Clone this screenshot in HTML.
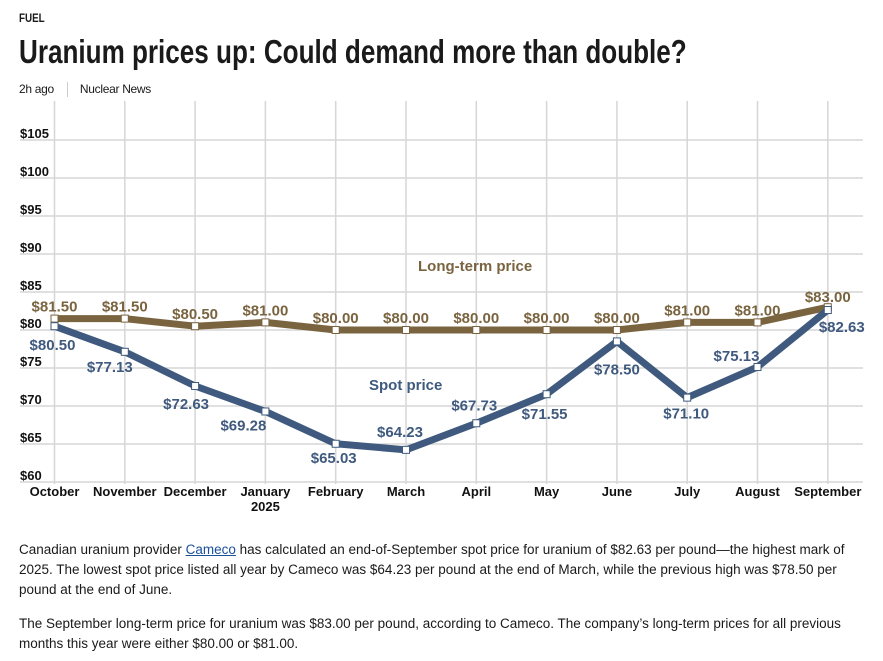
<!DOCTYPE html>
<html><head><meta charset="utf-8">
<style>
body{margin:0;width:883px;height:661px;background:#fff;font-family:"Liberation Sans",sans-serif;color:#1a1a1a;position:relative;overflow:hidden}
.a{position:absolute}
#fuel{left:19px;top:11px;font-size:12px;font-weight:bold;transform:scaleX(0.82);transform-origin:left top}
#title{left:19px;top:33px;font-size:33px;font-weight:bold;white-space:nowrap;transform:scaleX(0.79);transform-origin:left top}
#meta{left:19px;top:82px;font-size:12px;white-space:nowrap;letter-spacing:-0.3px}
#meta span.sep{display:inline-block;width:1px;height:15px;background:#ccc;vertical-align:middle;margin:0 12px 0 13px}
p{position:absolute;left:19px;margin:0;font-size:13.5px;line-height:20px;width:850px}
a{color:#1a4f9c}
</style></head><body>
<div class="a" id="fuel">FUEL</div>
<div class="a" id="title">Uranium prices up: Could demand more than double?</div>
<div class="a" id="meta">2h ago<span class="sep"></span>Nuclear News</div>
<svg class="a" style="left:0;top:0" width="883" height="530">
<g id="grid"></g><g id="ax"></g><g id="lines"></g><g id="lbl"></g>
<text x="418" y="271" font-size="15" font-weight="bold" fill="#7a6440">Long-term price</text>
<text x="369" y="390" font-size="15" font-weight="bold" fill="#3f5a7e">Spot price</text>
</svg>
<p style="top:540px">Canadian uranium provider <a href="#">Cameco</a> has calculated an end-of-September spot price for uranium of $82.63 per pound—the highest mark of 2025. The lowest spot price listed all year by Cameco was $64.23 per pound at the end of March, while the previous high was $78.50 per pound at the end of June.</p>
<p style="top:614px">The September long-term price for uranium was $83.00 per pound, according to Cameco. The company’s long-term prices for all previous months this year were either $80.00 or $81.00.</p>
<script>
const months=["October","November","December","January","February","March","April","May","June","July","August","September"];
const longTerm=[81.5,81.5,80.5,81.0,80.0,80.0,80.0,80.0,80.0,81.0,81.0,83.0];
const spot=[80.5,77.13,72.63,69.28,65.03,64.23,67.73,71.55,78.5,71.1,75.13,82.63];
const yTicks=[60,65,70,75,80,85,90,95,100,105];
const NS="http://www.w3.org/2000/svg";
const X=i=>54.5+i*70.3;
const Y=v=>482-(v-60)*7.6;
function mk(p,t,at){const e=document.createElementNS(NS,t);for(const k in at)e.setAttribute(k,at[k]);document.getElementById(p).appendChild(e);return e;}
yTicks.forEach(v=>{
 const l=mk('grid','line',{x1:20,x2:863,y1:Y(v),y2:Y(v),stroke:'#d6d6d6','stroke-width':1.5});
 
 
 const t=mk('ax','text',{x:20,y:Y(v)-2,'font-size':13,'font-weight':'bold',fill:'#111'});
 t.textContent='$'+v;
 
 
});
months.forEach((m,i)=>{
 const l=mk('grid','line',{x1:X(i),x2:X(i),y1:101,y2:484,stroke:'#d6d6d6','stroke-width':1.5});
 
 
 const t=mk('ax','text',{x:X(i),y:496,'font-size':13,'font-weight':'bold','text-anchor':'middle',fill:'#111'});
 t.textContent=m;
 
 
});
const yr=mk('ax','text',{x:X(3),y:511,'font-size':13,'font-weight':'bold','text-anchor':'middle',fill:'#111'});
yr.textContent='2025';


const ltOff=[[0,-7],[0,-7],[0,-7],[0,-7],[0,-7],[0,-7],[0,-7],[0,-7],[0,-7],[0,-7],[0,-7],[0,-5]];
const spOff=[[-2,24],[-15,20],[-9,23],[-22,19],[-2,19],[-6,-13],[-2,-13],[-2,25],[0,33],[-1,21],[-21,-6],[14,22]];
function series(vals,col,name,off){
 const pl=mk('lines','polyline',{points:vals.map((v,i)=>X(i)+','+Y(v)).join(' '),fill:'none',stroke:col,'stroke-width':7,'stroke-linejoin':'round'});
 
 
 vals.forEach((v,i)=>{
  const r=mk('lines','rect',{x:X(i)-3.5,y:Y(v)-3.5,width:7,height:7,fill:'#fff',stroke:col,'stroke-width':1});
  
  
  const t=mk('lbl','text',{x:X(i)+off[i][0],y:Y(v)+off[i][1],'font-size':15,'font-weight':'bold','text-anchor':'middle',fill:col});
  t.textContent='$'+v.toFixed(2);
  
  
 });
}
series(longTerm,'#7a6440','long-term',ltOff);
series(spot,'#3f5a7e','spot',spOff);
</script>
</body></html>
